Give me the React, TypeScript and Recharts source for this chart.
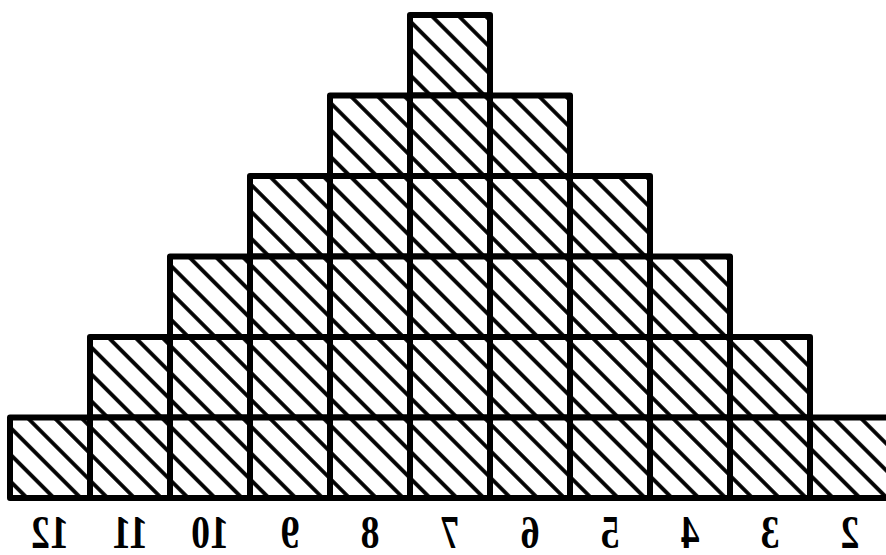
import React from 'react';
import { BarChart, Bar, XAxis, YAxis } from 'recharts';

// Categories as they read left to right in the (mirrored) picture
const sums = ['12', '11', '10', '9', '8', '7', '6', '5', '4', '3', '2'];
const counts = [1, 2, 3, 4, 5, 6, 5, 4, 3, 2, 1];

const data = sums.map((s, i) => ({ sum: s, count: counts[i] }));

const StackedSquares = (props: any) => {
  const { x, y, width, height, value } = props;
  const n = Array.isArray(value) ? value[1] - value[0] : value;
  if (!n) return null;
  const h = height / n;
  const cells = [];
  for (let k = 0; k < n; k++) {
    cells.push(
      <rect
        key={k}
        x={x}
        y={y + k * h}
        width={width}
        height={h}
        fill="url(#hatch)"
        stroke="#000"
        strokeWidth={6}
        strokeLinejoin="round"
      />
    );
  }
  return <g>{cells}</g>;
};

const Tick = (props: any) => {
  const { x, y, payload } = props;
  return (
    <text
      transform={`translate(${x},${y + 42}) scale(-0.82,1)`}
      textAnchor="middle"
      fontFamily="'Liberation Serif', serif"
      fontWeight="bold"
      fontSize={46}
      fill="#000"
    >
      {payload.value}
    </text>
  );
};

export default function App() {
  return (
    <div
      style={{
        position: 'absolute',
        left: 0,
        top: 0,
        width: 886,
        height: 555,
        background: '#fff',
      }}
    >
      <BarChart
        width={886}
        height={555}
        data={data}
        margin={{ top: 15, right: -4, bottom: 0, left: 10 }}
        barCategoryGap={0}
      >
        <defs>
          <pattern
            id="hatch"
            patternUnits="userSpaceOnUse"
            width={19}
            height={19}
            patternTransform="rotate(-45)"
          >
            <rect width={19} height={19} fill="#fff" />
            <line x1={9} y1={0} x2={9} y2={19} stroke="#000" strokeWidth={3.8} />
          </pattern>
        </defs>
        <XAxis
          dataKey="sum"
          height={57}
          axisLine={false}
          tickLine={false}
          interval={0}
          tick={<Tick />}
        />
        <YAxis hide domain={[0, 6]} />
        <Bar dataKey="count" isAnimationActive={false} shape={<StackedSquares />} />
      </BarChart>
    </div>
  );
}
